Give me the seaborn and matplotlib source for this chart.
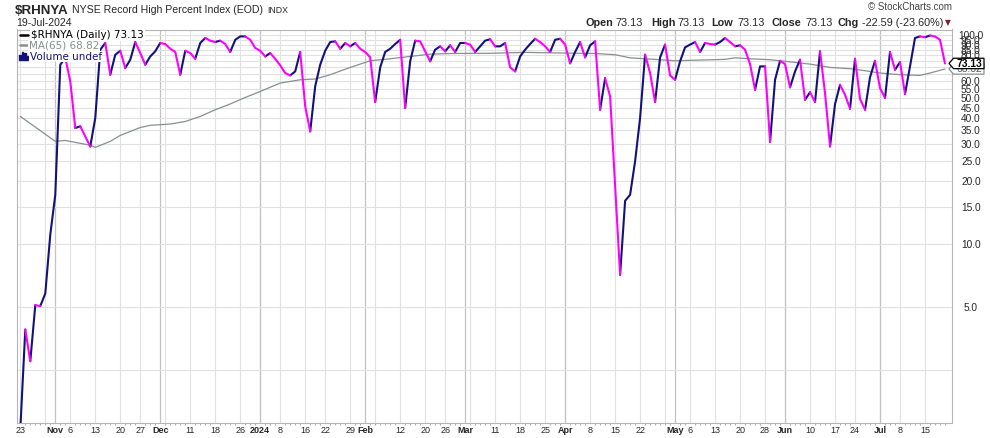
import matplotlib
matplotlib.use("Agg")
import matplotlib.pyplot as plt
from matplotlib.patches import Polygon, Rectangle
from matplotlib.ticker import FixedLocator, NullLocator
import seaborn as sns
import numpy as np
import pandas as pd

W, H = 990, 438

# ---- trading calendar (NYSE, Oct 23 2023 .. Jul 19 2024)
holidays = ["2023-11-23", "2023-12-25", "2024-01-01", "2024-01-15", "2024-02-19",
            "2024-03-29", "2024-05-27", "2024-06-19", "2024-07-04"]
days = pd.bdate_range("2023-10-23", "2024-07-19", freq="C", holidays=holidays)

# ---- $RHNYA daily close
rhnya = [
    1.3, 3.9, 2.75, 5.1, 5.05, 5.8, 11.1, 17.2, 72.1, 78,
    60, 35.9, 36.6, 32.7, 29.3, 40.1, 85.1, 91.6, 64.6, 80.5,
    84.1, 69.5, 76.2, 92.6, 82, 72.1, 79, 83.6, 91.6, 90.6,
    86, 83, 64.6, 84.1, 82, 77, 91.6, 96.8, 94, 92.6,
    94, 90.6, 83, 94.9, 98.5, 98.5, 95, 86.7, 84.1, 79,
    82, 77, 71.6, 65.8, 64.1, 67, 83, 45.6, 34.6, 56.9,
    72.1, 84.1, 92.6, 93.3, 86, 91.6, 88.3, 91.6, 86, 83,
    78.2, 47.8, 70, 83, 86, 90.6, 94.9, 44.8, 74.9, 94,
    93.3, 83.6, 74.9, 85.1, 88.3, 83.6, 89.3, 83, 91.6, 91.6,
    90, 83, 88.3, 94, 95.5, 88.3, 88.3, 91.6, 70, 67,
    79, 85.1, 90.6, 96, 92.6, 88.3, 83, 94.9, 96, 90,
    73.2, 83, 92.6, 78.2, 89.3, 93.3, 43.9, 62.2, 50.9, 19,
    7.13, 16.1, 17.2, 24.9, 40.1, 80.5, 65.8, 47.8, 78.2, 90,
    64.1, 61.1, 74.9, 87.3, 90, 92.6, 83, 91.6, 90.6, 90,
    92.6, 96.8, 92.6, 88.3, 89.3, 85.1, 72.6, 54.7, 70.8, 70.8,
    30.8, 61.1, 75.3, 72.6, 56.2, 67, 76.2, 49, 53.3, 47.8,
    83.6, 52.7, 29.3, 46.8, 57.8, 51.8, 44.4, 77, 49.5, 43.9,
    62.8, 75.3, 55.7, 50, 83, 68.2, 74.3, 52.2, 70.8, 96.8,
    98.5, 97.6, 99.5, 98.5, 94.9, 73.13,
]

# ---- MA(65), read at a subset of trading days
ma_day = [0, 7, 9, 14, 15, 18, 20, 24, 26, 30, 33, 36, 39, 42, 45, 47, 52, 56, 59, 62,
          66, 70, 74, 78, 82, 86, 94, 101, 109, 115, 119, 122, 125, 128, 131, 135, 141,
          143, 146, 150, 153, 158, 162, 166, 169, 172, 176, 180, 182, 185]
ma65 = [40.8, 31, 31.3, 29.7, 29, 31, 33.1, 36.1, 37, 37.5, 38.6, 40.8, 43.9, 46.8, 50.3,
        52.5, 58.9, 61.1, 61.6, 64.6, 70, 75.3, 77, 79, 81, 81.6, 81.8, 82.6, 82, 81.6,
        80.5, 77.8, 77, 76.2, 75.3, 75.8, 76.5, 77.8, 77, 76.2, 74.9, 72.6, 70, 69, 67.5,
        65.8, 64.6, 64.1, 65.8, 68.82]

last_close = 73.13
last_ma = 68.82
chg = -22.59
chg_pct = -23.60

tick_dates = ["2023-10-23", "2023-11-01", "2023-11-06", "2023-11-13", "2023-11-20",
              "2023-11-27", "2023-12-01", "2023-12-11", "2023-12-18", "2023-12-26",
              "2024-01-02", "2024-01-08", "2024-01-16", "2024-01-22", "2024-01-29",
              "2024-02-01", "2024-02-12", "2024-02-20", "2024-02-26", "2024-03-01",
              "2024-03-11", "2024-03-18", "2024-03-25", "2024-04-01", "2024-04-08",
              "2024-04-15", "2024-04-22", "2024-05-01", "2024-05-06", "2024-05-13",
              "2024-05-20", "2024-05-28", "2024-06-03", "2024-06-10", "2024-06-17",
              "2024-06-24", "2024-07-01", "2024-07-08", "2024-07-15"]
tick_text = ["23", "Nov", "6", "13", "20", "27", "Dec", "11", "18", "26", "2024", "8", "16",
             "22", "29", "Feb", "12", "20", "26", "Mar", "11", "18", "25", "Apr", "8", "15",
             "22", "May", "6", "13", "20", "28", "Jun", "10", "17", "24", "Jul", "8", "15"]
month_labels = {"Nov", "Dec", "2024", "Feb", "Mar", "Apr", "May", "Jun", "Jul"}

y_ticks = [2.5, 5, 10, 15, 20, 25, 30, 35, 40, 45, 50, 55, 60, 65, 70, 75, 80, 85, 90, 95, 100]
# labels that sit under the value tags (or have none) are left blank
y_blank = {2.5, 65, 70}

NAVY = "#121279"
MAGENTA = "#ff00ff"
MA_GREY = "#87908f"


def px(x, y):
    return x / W, 1 - y / H


sns.set_style("white")
plt.rcParams["font.family"] = ["Liberation Sans", "DejaVu Sans"]

fig = plt.figure(figsize=(W / 100, H / 100), dpi=100)
ax = fig.add_axes([17 / W, 1 - 422.5 / H, (952 - 17) / W, (422.5 - 29.5) / H])

# ---- up/down colour-coded close line, split into runs
x = np.arange(len(days))
rows, run, prev = [], 0, None
for k in range(1, len(rhnya)):
    d = "up" if rhnya[k] >= rhnya[k - 1] else "down"
    if d != prev:
        run += 1
        rows.append((run, d, x[k - 1], rhnya[k - 1]))
        prev = d
    rows.append((run, d, x[k], rhnya[k]))
seg = pd.DataFrame(rows, columns=["run", "dir", "day", "value"])

sns.lineplot(x=ma_day, y=ma65, color=MA_GREY, lw=0.9, ax=ax, zorder=2)
sns.lineplot(data=seg, x="day", y="value", hue="dir", units="run", estimator=None,
             sort=False, palette={"up": NAVY, "down": MAGENTA}, lw=1.5,
             legend=False, ax=ax, zorder=3)

# ---- axes
ax.set_yscale("log")
ax.set_ylim(1.4, 106.3)
ax.set_xlim(-0.66, 186.4)
ax.set_xlabel("")
ax.set_ylabel("")

ax.yaxis.set_major_locator(FixedLocator(y_ticks))
ax.yaxis.set_minor_locator(NullLocator())
ax.set_yticklabels(["" if v in y_blank else f"{v:.1f}" for v in y_ticks])
ax.yaxis.tick_right()
ax.tick_params(axis="y", which="both", left=False, right=False, labelleft=False,
               labelright=True, length=0, pad=13.5, labelsize=7.3)
for t in ax.get_yticklabels():
    t.set_horizontalalignment("center")

tick_idx = [days.get_loc(pd.Timestamp(d)) for d in tick_dates]
ax.set_xticks(tick_idx)
ax.set_xticklabels(tick_text)
ax.xaxis.set_minor_locator(FixedLocator(x))
ax.tick_params(axis="x", which="major", bottom=True, length=0, pad=2.5, labelsize=6.5)
ax.tick_params(axis="x", which="minor", bottom=True, length=1.6, width=0.6, color="#9a9a9a")
for t in ax.get_xticklabels():
    if t.get_text() in month_labels:
        t.set_fontweight("bold")

# grid: horizontal at y ticks, vertical at week starts and (darker) month starts
ax.grid(axis="y", color="#e1e1e1", lw=0.8)
ax.set_axisbelow(True)
s = pd.Series(x, index=days)
week_starts = s.groupby(days.to_period("W")).first().values
month_starts = s.groupby(days.to_period("M")).first().values[1:]
for d in week_starts:
    ax.axvline(d, color="#e1e1e1", lw=0.8, zorder=0)
for d in month_starts:
    ax.axvline(d, color="#c2c2c2", lw=0.9, zorder=0)

for sp in ax.spines.values():
    sp.set_color("#b5b5b5")
    sp.set_linewidth(0.8)

# ---- in-plot legend
fig.add_artist(plt.Line2D([20 / W, 28 / W], [1 - 34.5 / H] * 2, color="black", lw=1.8))
fig.text(*px(31, 38.5), f"$RHNYA (Daily) {last_close:.2f}", fontsize=7.5,
         family="DejaVu Sans", color="black",
         bbox=dict(fc="white", ec="none", pad=0.6))
fig.add_artist(plt.Line2D([20 / W, 28 / W], [1 - 45 / H] * 2, color=MA_GREY, lw=1.8))
fig.text(*px(29, 49), f"MA(65) {last_ma:.2f}", fontsize=7.5, family="DejaVu Sans",
         color=MA_GREY, bbox=dict(fc="white", ec="none", pad=0.6))
for bx, bh in [(19, 5), (21.5, 8), (24, 6), (26.5, 4)]:
    fig.add_artist(Rectangle((bx / W, 1 - 59.5 / H), 1.8 / W, bh / H, color=NAVY))
fig.text(*px(29.5, 59.5), "Volume undef", fontsize=7.5, family="DejaVu Sans",
         color=NAVY, bbox=dict(fc="white", ec="none", pad=0.6))

# ---- header
fig.text(*px(15, 13.5), "$RHNYA", fontsize=9.6, fontweight="bold", va="baseline")
fig.text(*px(72, 13), "NYSE Record High Percent Index (EOD)", fontsize=7.6, va="baseline")
fig.text(*px(267, 13), "INDX", fontsize=6.3, va="baseline")
fig.text(*px(16, 26), "19-Jul-2024", fontsize=7.6, va="baseline")
fig.text(*px(952, 10), "\u00a9 StockCharts.com", fontsize=7, color="#444444",
         ha="right", va="baseline")

pieces = [("Open", True, 586), (f"{last_close:.2f}", False, 615),
          ("High", True, 651), (f"{last_close:.2f}", False, 678),
          ("Low", True, 711), (f"{last_close:.2f}", False, 738),
          ("Close", True, 771), (f"{last_close:.2f}", False, 805),
          ("Chg", True, 838), (f"{chg:.2f} ({chg_pct:.2f}%)", False, 862)]
for txt, bold, xp in pieces:
    fig.text(*px(xp, 26), txt, fontsize=7.8, fontweight="bold" if bold else "normal",
             va="baseline")
fig.text(*px(948, 25.5), "\u25bc", fontsize=5.5, color="#8b1a2b", family="DejaVu Sans",
         ha="center", va="baseline")


# ---- value tags on the right axis
def tag(yc, text, edge, tcolor, weight, z):
    pts = [px(949, yc), px(953.5, yc - 5.2), px(984, yc - 5.2), px(984, yc + 5.2),
           px(953.5, yc + 5.2)]
    fig.add_artist(Polygon(pts, closed=True, fc="white", ec=edge, lw=0.9, zorder=z))
    fig.text(*px(969, yc + 0.3), text, fontsize=7.4, fontweight=weight, color=tcolor,
             ha="center", va="center", zorder=z + 0.1)


def ypix(v):
    lo, hi = np.log10(1.4), np.log10(106.3)
    return 422.5 - (np.log10(v) - lo) / (hi - lo) * (422.5 - 29.5)


tag(ypix(last_ma), f"{last_ma:.2f}", MA_GREY, "#555555", "normal", 5)
tag(ypix(last_close), f"{last_close:.2f}", "black", "black", "bold", 6)

fig.savefig("out.png", dpi=100)
